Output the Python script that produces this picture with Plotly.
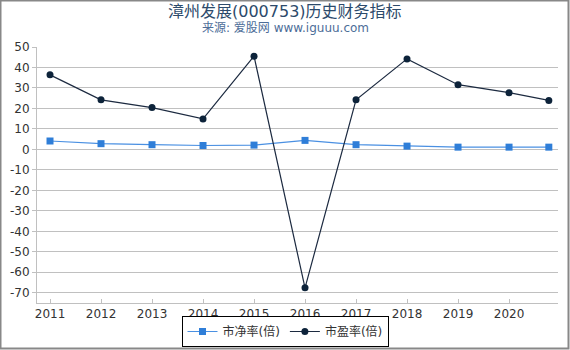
import plotly.graph_objects as go

years = [2011, 2012, 2013, 2014, 2015, 2016, 2017, 2018, 2019, 2020, 2020.78]
pb = [4.1, 2.8, 2.3, 1.9, 2.1, 4.4, 2.3, 1.6, 1.1, 1.1, 1.1]
pe = [36.4, 24.2, 20.4, 14.9, 45.5, -67.6, 24.2, 44.2, 31.6, 27.7, 23.9]
xticks = [2011, 2012, 2013, 2014, 2015, 2016, 2017, 2018, 2019, 2020]
yticks = list(range(-70, 51, 10))

font = "DejaVu Sans, Noto Sans CJK SC, sans-serif"

fig = go.Figure()
fig.add_trace(go.Scatter(
    x=years, y=pb, name="市净率(倍)", mode="lines+markers",
    line=dict(color="#4a90e2", width=1.2),
    marker=dict(symbol="square", size=7, color="#2f7ed8"),
))
fig.add_trace(go.Scatter(
    x=years, y=pe, name="市盈率(倍)", mode="lines+markers",
    line=dict(color="#1c2a40", width=1.2),
    marker=dict(symbol="circle", size=7, color="#0d233a"),
))

W, H = 570, 350
ml, mr, mt, mb = 37, 12, 47, 47
pw, ph = W - ml - mr, H - mt - mb

def py(ypx):
    return 1 + (mt - ypx) / ph

fig.update_layout(
    width=W, height=H,
    margin=dict(l=ml, r=mr, t=mt, b=mb, autoexpand=False),
    paper_bgcolor="white", plot_bgcolor="white",
    font=dict(family=font, size=12, color="#333333"),
    showlegend=True,
    legend=dict(
        orientation="h", x=(285 - ml) / pw, xanchor="center",
        y=py(347), yanchor="bottom",
        bordercolor="#000000", borderwidth=1, font=dict(size=12, color="#333333"),
        itemwidth=30, tracegroupgap=0,
    ),
    xaxis=dict(
        range=[2010.745, 2020.96], tickvals=xticks, ticktext=[str(v) for v in xticks],
        showgrid=False, zeroline=False, showline=True, linecolor="#c0c0c0", linewidth=1,
        ticks="inside", ticklen=4, tickcolor="#c0c0c0", tickfont=dict(size=12, color="#333333"),
        automargin=False,
    ),
    yaxis=dict(
        range=[-75, 50], tickvals=yticks, ticktext=[str(v) for v in yticks],
        showgrid=True, gridcolor="#c0c0c0", gridwidth=1,
        zeroline=False, showline=True, linecolor="#c0c0c0", linewidth=1,
        ticks="outside", ticklen=4, tickcolor="#c0c0c0", tickfont=dict(size=12, color="#333333"),
        automargin=False,
    ),
    annotations=[
        dict(text="漳州发展(000753)历史财务指标", xref="paper", yref="paper",
             x=(285 - ml) / pw, y=py(11), xanchor="center", yanchor="middle", showarrow=False,
             font=dict(size=16, color="#2c4a6b", family=font)),
        dict(text="来源: 爱股网 www.iguuu.com", xref="paper", yref="paper",
             x=(285 - ml) / pw, y=py(28), xanchor="center", yanchor="middle", showarrow=False,
             font=dict(size=12, color="#4d6d98", family=font)),
    ],
)

fig.add_shape(
    type="rect", xref="paper", yref="paper",
    x0=(0.5 - ml) / pw, x1=(W - 1.5 - ml) / pw,
    y0=-(mb - 1.5) / ph, y1=1 + (mt - 0.5) / ph,
    line=dict(color="#888888", width=2), fillcolor="rgba(0,0,0,0)", layer="below",
)

fig.write_html("out.html")
